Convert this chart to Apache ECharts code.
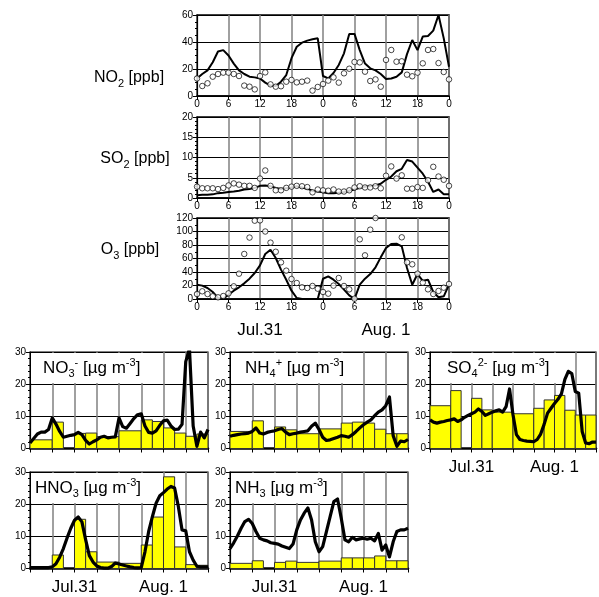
<!DOCTYPE html>
<html>
<head>
<meta charset="utf-8">
<script src="https://cdn.jsdelivr.net/npm/echarts@6/dist/echarts.min.js"></script>
<style>
  html, body { margin: 0; padding: 0; background: #fff; }
  #main { width: 599px; height: 597px; }
</style>
</head>
<body>
<div id="main"></div>
<script>
// hours from 00:00 Jul.31 to 00:00 Aug.2
var hours = [0,1,2,3,4,5,6,7,8,9,10,11,12,13,14,15,16,17,18,19,20,21,22,23,24,
  25,26,27,28,29,30,31,32,33,34,35,36,37,38,39,40,41,42,43,44,45,46,47,48];

// gas panels (line = model, circles = observed)
var no2Line = [13,16.3,19,25,33,34,30,24,19,16.3, 14.3,13.8,13,9.9,7.7,7.4,10.6,15.5,28,36.5,
  39.5,41,42,42.7,14.8,13,17,23,31.6,46, 46,34,24,20.5,19,16.3,12.6,13,14.3,17.5,
  31,41.5,34,44,44.4,48.4,60,42.7,21.7];
var no2Obs = [13,7.4,9.4,14.3,16.3,17.3,17.3,16.3,14.8,7.7, 6.9,4.9,14.8,17.5,8.6,6.9,7.2,10.6,11.9,10.1,
  10.6,11.4,4,6.7,8.9,11.4,13.8,9.9,16.8,20.2, 25.2,24.9,18,11.1,12.3,6.9,26.7,34.1,25.4,25.7,
  15.8,14.6,17.3,24.2,34.1,34.8,24.4,17.8,12.3];
var so2Line = [0.7,0.8,0.8,0.9,1.2,1.3,1.5,1.6,1.8,2.1, 2.2,2.5,3.0,3.1,2.9,2.5,2.2,2.4,2.6,2.9,
  2.6,2.3,1.8,1.6,1.4,1.2,1.2,1.3,1.5,1.8, 2.1,2.5,2.8,2.9,3.1,3.5,4.5,5.3,6.6,7.2,
  9.4,9.0,7.5,6.0,4.0,1.5,2.1,0.9,0.9];
var so2Obs = [2.8,2.4,2.4,2.4,2.2,2.5,3.1,3.6,3.3,3.0, 3.0,2.5,4.8,6.8,3.0,1.9,1.9,2.5,2.8,3.0,
  2.9,2.7,1.4,2.1,1.9,1.8,2.1,1.6,1.6,1.9, 2.6,2.9,2.6,2.6,2.9,2.4,5.5,7.8,4.8,5.6,
  2.3,2.3,2.7,2.5,4.4,7.7,5.3,4.5,3.0];
var o3Line = [21,19.8,16.3,10.4,1.5,0.5,6.4,12.3,17.3,23.2, 30.1,38.5,49.9,66.7,73,60.7,43.5,28.6,12.3,1.5,
  0,0,0,0,30,33.6,28.6,22.2,13.8,5.4, 0,21.2,30.1,37,47,61.7,75.6,81.5,82,78,
  46,21.2,37,27,28.6,10.4,2.5,4,21.2];
var o3Obs = [7.4,11.4,7.4,4,2.5,4.4,8.4,18.8,37.5,66.7, 91,116,116.5,100,83.5,70,54.3,42,29.6,23.7,
  17.3,16.3,19.3,15.3,10.4,7.9,19.8,31.1,19.3,14.3, 0.5,88.4,64.7,102.7,120,null,null,null,null,91.4,
  54.3,51.4,37.5,24.2,14.3,7.4,11.9,16.8,22.2];

// aerosol panels: filter sampling periods (bars) and hourly model (line)
var barStart = [0,6,12,15,18,24,30,33,36,39,42,45];
var barEnd   = [6,9,15,18,24,30,33,36,39,42,45,48];
var no3Bar  = [2.7,8.2,4.7,4.8,3.7,5.5,8.9,8.4,6.4,4.8,3.8,4.5];
var nh4Bar  = [5.3,8.6,6.7,5.8,4.6,6.1,7.9,8.2,7.9,6.0,4.6,4.6];
var so4Bar  = [13.3,18.0,15.6,12.0,11.3,10.8,12.5,15.1,16.5,11.9,10.4,10.4];
var hno3Bar = [0.5,4.2,15.3,5.2,2.0,1.6,7.3,16,28.5,6.7,1.2,1.0];
var nh3Bar  = [1.6,2.4,1.9,2.3,1.9,2.3,3.3,3.3,3.3,3.9,2.4,2.4];

var no3Line = [1.7,3.1,4.5,5.1,5.1,5.9,9.5,7.6,5.3,3.5, 3.8,4.1,4.3,5.0,4.3,2.5,1.4,2.1,2.7,3.5,
  3.8,3.3,3.5,3.6,9.5,6.8,6.3,7.8,9.3,10.5, 10.8,7.0,5.0,4.8,5.5,7.2,8.6,8.8,7.0,5.9,
  6.0,7.5,27,31,7,0.7,5.1,3.3,5.9];
var nh4Line = [3.8,4.1,4.3,4.5,4.6,4.8,5.3,6.4,4.8,4.5, 5.0,5.3,5.5,5.9,6.2,5.1,4.3,4.6,4.8,5.1,
  5.3,5.5,6.9,7.9,5.9,3.5,2.5,2.7,3.1,3.5, 4.0,3.8,3.5,4.3,5.3,6.4,7.4,8.2,8.9,10.2,
  11.3,12.0,13.3,16.0,4.0,0.7,2.3,2.1,2.8];
var so4Line = [8.9,8.2,7.9,8.2,8.4,8.7,8.9,9.2,8.4,8.9, 9.7,10.3,10.8,11.3,12.3,11.5,10.3,10.8,11.3,11.7,
  12.0,11.3,13.0,18.5,10.5,4.3,2.8,2.5,2.3,2.2, 2.1,2.8,4.5,7.5,11.0,12.5,14.0,15.3,17.0,21.5,
  24.0,23.3,17.7,17.2,5.3,1.7,1.5,2.0,2.0];
var hno3Line = [0.3,0.3,0.3,0.3,0.3,0.3,0.5,1.5,3.5,6.2, 9.5,12.5,15,16,14.5,9,4,2,0.8,0.3,
  0.1,0.1,0.6,1.7,1.4,1.1,0.8,0.5,0.3,0.2, 0.3,5.2,11.5,16.1,20.3,22.6,23.6,24.7,25.5,25,
  19.3,12,11.7,5.2,2.6,0.7,0.5,0.5,0.5];
var nh3Line = [6.2,8.0,10.1,12.5,14.6,15.3,14,11.5,9.4,8.9, 8.6,8.0,7.8,7.6,7.0,6.6,6.2,7.6,12,15.1,
  17.2,18.8,15.1,8.3,5.2,6.8,11.5,16.1,20.8,21.6, 15.6,8.9,8.3,9.7,8.9,9.2,9.4,9.1,9.4,8.6,
  10.9,5.7,7.3,3.6,8.3,11.5,12,12,12.5];

var dateTicks = { 12: 'Jul.31', 36: 'Aug. 1' };
var FONT = 'Liberation Sans, Arial, sans-serif';

var chart = echarts.init(document.getElementById('main'));

function pairs(vals) {
  var out = [];
  for (var i = 0; i < hours.length; i++) {
    if (vals[i] != null) out.push([hours[i], vals[i]]);
  }
  return out;
}

function bars(vals) {
  return barStart.map(function (s, i) { return [s, barEnd[i], vals[i]]; });
}

// filter bars with variable widths
function renderBar(params, api) {
  var lt = api.coord([api.value(0), api.value(2)]);
  var rb = api.coord([api.value(1), 0]);
  return {
    type: 'rect',
    shape: { x: lt[0], y: lt[1], width: rb[0] - lt[0], height: rb[1] - lt[1] },
    style: { fill: '#ffff00', stroke: '#333', lineWidth: 1 }
  };
}

function xAxisOf(grid, opts) {
  return {
    type: 'value', gridIndex: grid, min: 0, max: 48, interval: 6,
    axisLine: { show: true, lineStyle: { color: '#000', width: opts.lineWidth || 1.5 } },
    axisTick: { show: true, length: 4, lineStyle: { color: '#000' } },
    splitLine: { show: true, lineStyle: { color: '#808080', width: 1.5 } },
    axisLabel: {
      show: opts.labels !== 'none',
      color: '#000', fontFamily: FONT,
      fontSize: opts.labels === 'date' ? 17 : 10,
      margin: opts.labels === 'date' ? 10 : 3,
      formatter: function (v) {
        if (opts.labels === 'date') return dateTicks[v] || '';
        return String(v % 24);
      }
    }
  };
}

function yAxisOf(grid, max, interval, minor) {
  return {
    type: 'value', gridIndex: grid, min: 0, max: max, interval: interval,
    axisLine: { show: true, lineStyle: { color: '#000', width: 1.2 } },
    axisTick: { show: true, length: 4, lineStyle: { color: '#000' } },
    minorTick: { show: true, splitNumber: minor, length: 2, lineStyle: { color: '#000' } },
    splitLine: { show: true, lineStyle: { color: '#000', width: 1 } },
    axisLabel: { color: '#000', fontFamily: FONT, fontSize: 10, margin: 4 }
  };
}

var topGrid = { left: 197, width: 252, height: 81, show: true, borderColor: '#000', borderWidth: 1.5 };
var grids = [
  Object.assign({ top: 15 }, topGrid),
  Object.assign({ top: 117 }, topGrid),
  Object.assign({ top: 218 }, topGrid)
];
var lowLefts = [30, 230, 430, 30, 230];
var lowTops = [352, 352, 352, 472, 472];
for (var i = 0; i < 5; i++) {
  grids.push({ left: lowLefts[i], top: lowTops[i], width: 178, height: 96.5,
    show: true, borderColor: '#000', borderWidth: 1.2 });
}

var xAxes = [
  xAxisOf(0, {}), xAxisOf(1, {}), xAxisOf(2, {}),
  xAxisOf(3, { labels: 'none', lineWidth: 2.5 }),
  xAxisOf(4, { labels: 'none', lineWidth: 2.5 }),
  xAxisOf(5, { labels: 'date', lineWidth: 2.5 }),
  xAxisOf(6, { labels: 'date', lineWidth: 2.5 }),
  xAxisOf(7, { labels: 'date', lineWidth: 2.5 }),
  // date row under the O3 panel
  {
    type: 'value', gridIndex: 2, min: 0, max: 48, interval: 6, position: 'bottom', offset: 15,
    axisLine: { show: false }, axisTick: { show: false }, splitLine: { show: false },
    axisLabel: { color: '#000', fontFamily: FONT, fontSize: 17,
      formatter: function (v) { return dateTicks[v] || ''; } }
  }
];

var yAxes = [
  yAxisOf(0, 60, 20, 4), yAxisOf(1, 20, 5, 5), yAxisOf(2, 120, 20, 2),
  yAxisOf(3, 30, 10, 5), yAxisOf(4, 30, 10, 5), yAxisOf(5, 30, 10, 5),
  yAxisOf(6, 30, 10, 5), yAxisOf(7, 30, 10, 5)
];

var series = [];
[no2Line, so2Line, o3Line].forEach(function (vals, k) {
  series.push({ type: 'line', xAxisIndex: k, yAxisIndex: k, data: pairs(vals),
    showSymbol: false, z: 3, lineStyle: { color: '#000', width: 2 } });
});
[no2Obs, so2Obs, o3Obs].forEach(function (vals, k) {
  series.push({ type: 'scatter', xAxisIndex: k, yAxisIndex: k, data: pairs(vals),
    symbol: 'circle', symbolSize: 5.5, z: 4,
    itemStyle: { color: '#fff', borderColor: '#000', borderWidth: 0.9 } });
});
[[no3Bar, no3Line], [nh4Bar, nh4Line], [so4Bar, so4Line], [hno3Bar, hno3Line], [nh3Bar, nh3Line]]
  .forEach(function (pair, k) {
    var g = k + 3;
    series.push({ type: 'custom', xAxisIndex: g, yAxisIndex: g, data: bars(pair[0]),
      renderItem: renderBar, encode: { x: [0, 1], y: 2 }, z: 2 });
    series.push({ type: 'line', xAxisIndex: g, yAxisIndex: g, data: pairs(pair[1]),
      showSymbol: false, z: 3, lineStyle: { color: '#000', width: 3.2, join: 'round' } });
  });

var rich = {
  m: { fontFamily: FONT, fontSize: 17, lineHeight: 22, color: '#000' },
  s: { fontFamily: FONT, fontSize: 16, lineHeight: 22, color: '#000' },
  sub: { fontFamily: FONT, fontSize: 11, lineHeight: 11, verticalAlign: 'bottom', color: '#000' },
  sup: { fontFamily: FONT, fontSize: 11, lineHeight: 11, verticalAlign: 'top', color: '#000' }
};

function sideLabel(x, y, text) {
  return { type: 'text', x: x, y: y, z: 5,
    style: { text: text, rich: rich, textAlign: 'center', textVerticalAlign: 'middle' } };
}

// panel titles sit in a white box that hides the grid behind them
function boxLabel(x, y, padLeft, text) {
  return { type: 'text', x: x, y: y, z: 1,
    style: { text: text, rich: rich, backgroundColor: '#fff', padding: [4, 10, 4, padLeft] } };
}

var graphics = [
  sideLabel(129, 78, '{s|NO}{sub|2}{s| [ppb]}'),
  sideLabel(135, 159, '{s|SO}{sub|2}{s| [ppb]}'),
  sideLabel(130, 250, '{s|O}{sub|3}{s| [ppb]}'),
  boxLabel(31, 353, 12, '{m|NO}{sub|3}{sup|-}{m| [µg m}{sup|-3}{m|]}'),
  boxLabel(231, 353, 14, '{m|NH}{sub|4}{sup|+}{m| [µg m}{sup|-3}{m|]}'),
  boxLabel(431, 353, 16, '{m|SO}{sub|4}{sup|2-}{m| [µg m}{sup|-3}{m|]}'),
  boxLabel(31, 473, 4, '{m|HNO}{sub|3}{m| [µg m}{sup|-3}{m|]}'),
  boxLabel(231, 473, 4, '{m|NH}{sub|3}{m| [µg m}{sup|-3}{m|]}')
];

chart.setOption({
  animation: false,
  backgroundColor: '#fff',
  textStyle: { fontFamily: FONT },
  grid: grids,
  xAxis: xAxes,
  yAxis: yAxes,
  series: series,
  graphic: graphics
});
</script>
</body>
</html>
